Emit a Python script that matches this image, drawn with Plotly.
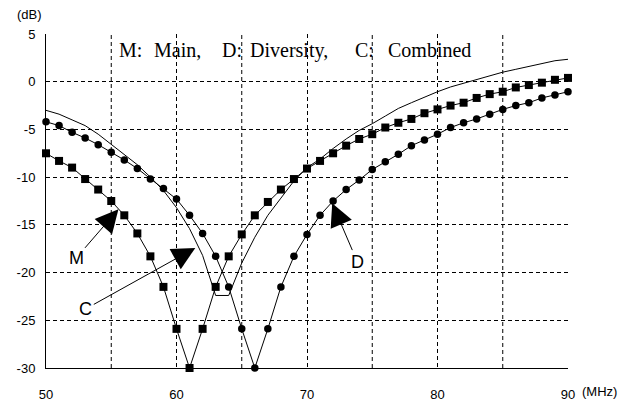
import plotly.graph_objects as go

freq = list(range(50, 91))

main_db = [-7.5, -8.3, -9.0, -10.2, -11.3, -12.5, -14.0, -15.9, -18.3, -21.5,
           -25.9, -30.0, -25.9, -21.5, -18.3, -16.0, -14.0, -12.6, -11.3, -10.2,
           -9.1, -8.3, -7.5, -6.7, -6.0, -5.5, -4.8, -4.3, -3.9, -3.3,
           -2.9, -2.5, -2.2, -1.7, -1.3, -1.05, -0.6, -0.35, -0.1, 0.2, 0.4]

div_db = [-4.2, -4.6, -5.3, -5.9, -6.6, -7.4, -8.2, -9.1, -10.2, -11.2,
          -12.3, -14.0, -15.9, -18.3, -21.5, -25.9, -30.0, -25.9, -21.5, -18.3,
          -16.0, -14.0, -12.5, -11.3, -10.3, -9.2, -8.4, -7.6, -6.7, -6.1,
          -5.5, -4.8, -4.3, -3.9, -3.4, -2.9, -2.5, -2.2, -1.7, -1.4, -1.05]

comb_db = [-3.0, -3.4, -4.0, -4.6, -5.5, -6.6, -7.6, -8.7, -10.0, -11.4,
           -13.2, -15.4, -18.2, -22.4, -22.4, -19.0, -16.3, -14.0, -12.2, -10.4,
           -9.0, -8.1, -7.0, -6.0, -5.1, -4.4, -3.6, -2.8, -2.2, -1.6,
           -1.05, -0.55, -0.15, 0.2, 0.6, 1.0, 1.3, 1.6, 1.85, 2.2, 2.35]

x_ticks = [50, 60, 70, 80, 90]
y_ticks = [5, 0, -5, -10, -15, -20, -25, -30]
grid_x = [55, 65, 75, 85]

title_parts = ["M:", "Main,", "D:", "Diversity,", "C:", "Combined"]
title_part_x = [55.43, 58.11, 63.35, 65.5, 73.56, 76.02]

fig = go.Figure()
fig.add_trace(go.Scatter(x=freq, y=comb_db, mode="lines",
                         line=dict(color="black", width=1), cliponaxis=False))
fig.add_trace(go.Scatter(x=freq, y=main_db, mode="lines+markers",
                         line=dict(color="black", width=1),
                         marker=dict(symbol="square", size=8, color="black"),
                         cliponaxis=False))
fig.add_trace(go.Scatter(x=freq, y=div_db, mode="lines+markers",
                         line=dict(color="black", width=1),
                         marker=dict(symbol="circle", size=7.5, color="black"),
                         cliponaxis=False))

tick_font = dict(family="Liberation Sans, Arial, sans-serif", size=13, color="black")

fig.update_xaxes(range=[50, 90], tickvals=x_ticks, ticktext=[str(v) for v in x_ticks],
                 showgrid=True, gridcolor="black", griddash="4px,3px", gridwidth=1,
                 showline=True, linecolor="black", linewidth=1,
                 ticks="outside", ticklen=0, ticklabelstandoff=14, automargin=False,
                 zeroline=False, tickfont=tick_font)
fig.update_yaxes(range=[-30, 5], tickvals=y_ticks, ticktext=[str(v) for v in y_ticks],
                 showgrid=True, gridcolor="black", griddash="4px,3px", gridwidth=1,
                 showline=True, linecolor="black", linewidth=1,
                 ticks="outside", ticklen=0, ticklabelstandoff=7, automargin=False,
                 zeroline=False, tickfont=tick_font)

for gx in grid_x:
    fig.add_shape(type="line", xref="x", yref="y", x0=gx, x1=gx, y0=-30, y1=5,
                  line=dict(color="black", width=1, dash="4px,3px"), layer="below")

arrow_common = dict(showarrow=True, arrowhead=2, arrowsize=4.6, arrowwidth=1,
                    arrowcolor="black", axref="x", ayref="y",
                    font=dict(family="Liberation Sans, Arial, sans-serif", size=18, color="black"))
fig.add_annotation(x=55.55, y=-13.36, ax=52.3, ay=-18.5, text="M", **arrow_common)
fig.add_annotation(x=61.44, y=-17.42, ax=53.05, ay=-23.8, text="C", **arrow_common)
fig.add_annotation(x=71.93, y=-12.73, ax=73.85, ay=-18.85, text="D", **arrow_common)

for txt, tx in zip(title_parts, title_part_x):
    fig.add_annotation(x=tx, y=3.32, xref="x", yref="y", xanchor="left", yanchor="middle",
                       showarrow=False, text=txt,
                       font=dict(family="Liberation Serif, Times New Roman, serif",
                                 size=20, color="black"))

fig.add_annotation(x=-0.0307, y=1.057, xref="paper", yref="paper", xanchor="center",
                   yanchor="middle", showarrow=False, text="(dB)", font=tick_font)
fig.add_annotation(x=1.023, y=-0.071, xref="paper", yref="paper", xanchor="left",
                   yanchor="middle", showarrow=False, text="(MHz)", font=tick_font)

# page body has an 8px margin; size the figure so the plot area lands where the reference has it
fig.update_layout(width=628, height=393, margin=dict(l=38, r=68, t=26, b=33),
                  plot_bgcolor="white", paper_bgcolor="white", showlegend=False)

fig.write_html("out.html")
